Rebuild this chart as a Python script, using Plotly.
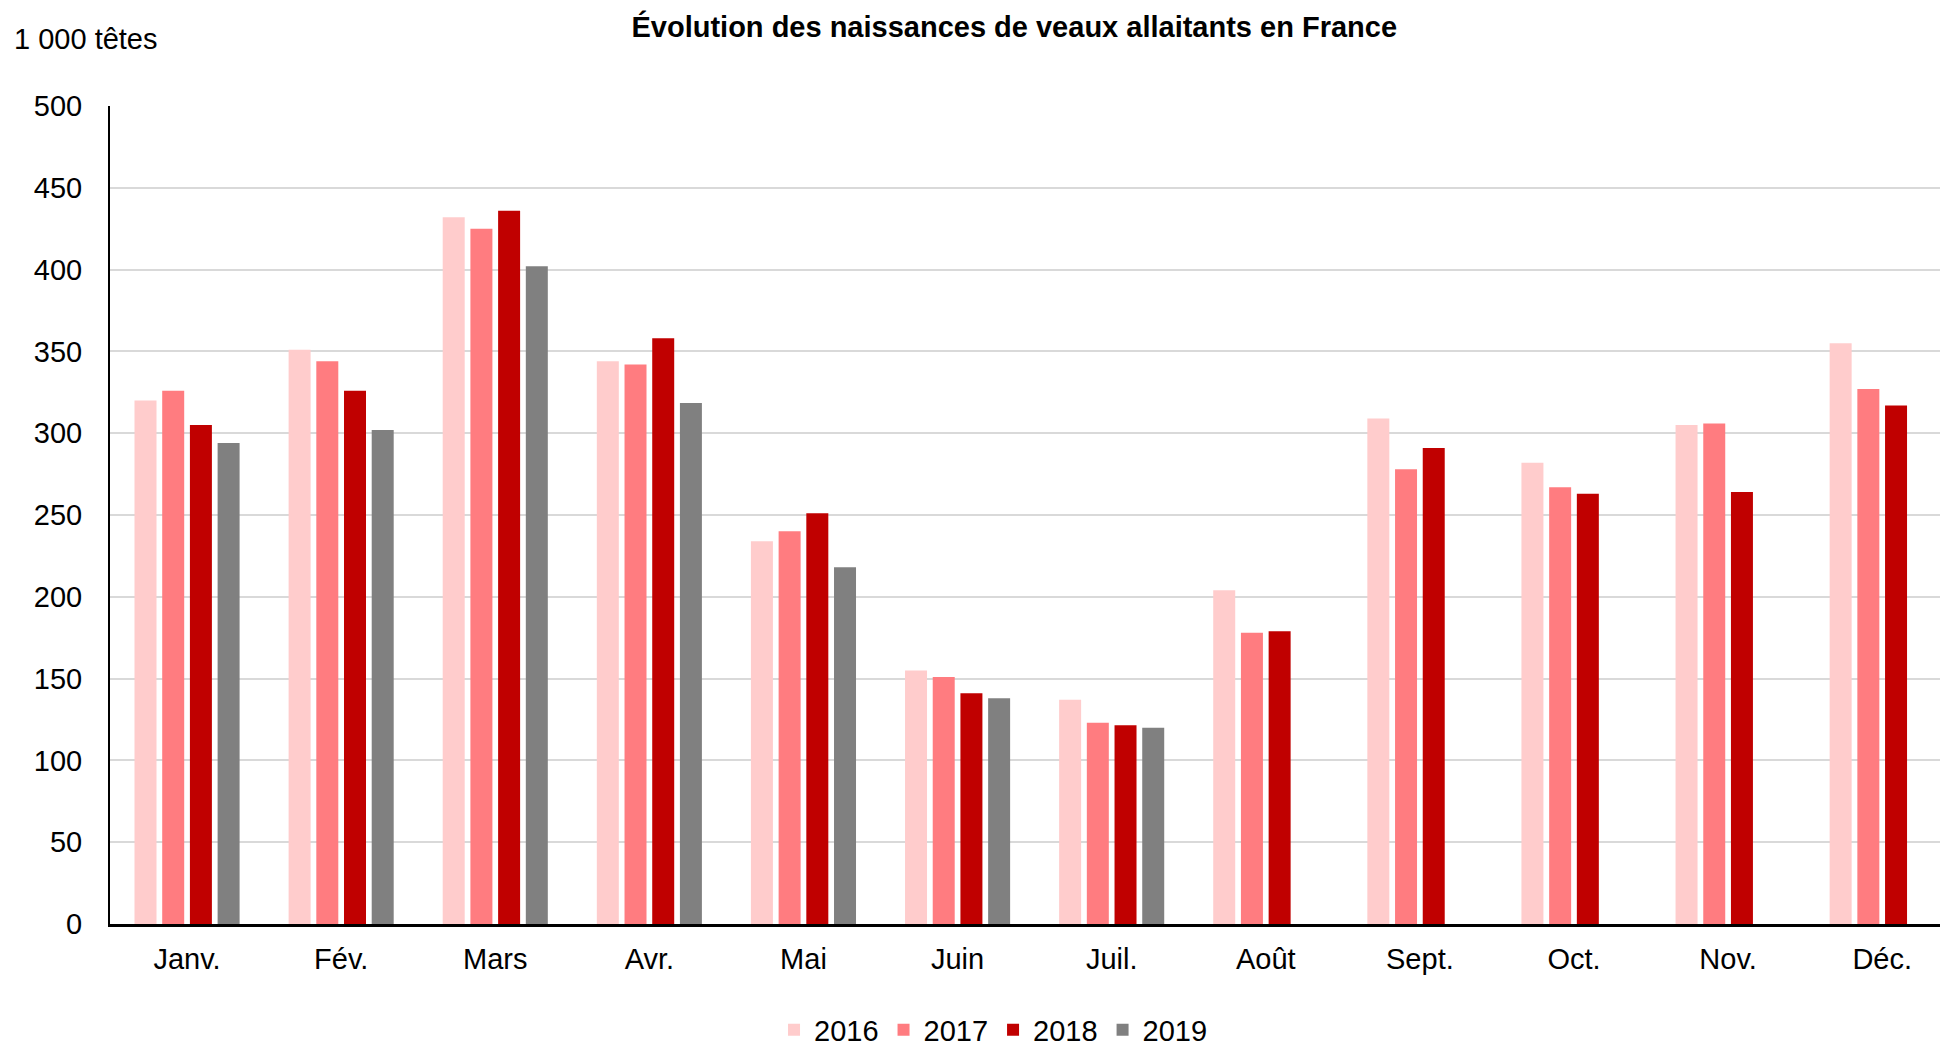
import plotly.graph_objects as go

months = ["Janv.", "Fév.", "Mars", "Avr.", "Mai", "Juin", "Juil.", "Août",
          "Sept.", "Oct.", "Nov.", "Déc."]
v2016 = [320, 351, 432, 344, 234, 155, 137, 204, 309, 282, 305, 355]
v2017 = [326, 344, 425, 342, 240, 151, 123, 178, 278, 267, 306, 327]
v2018 = [305, 326, 436, 358, 251, 141, 121.5, 179, 291, 263, 264, 317]
v2019 = [294, 302, 402, 318.5, 218, 138, 120, None, None, None, None, None]
years = ["2016", "2017", "2018", "2019"]
colors = ["#ffcccc", "#ff7c80", "#c00000", "#808080"]
series = [v2016, v2017, v2018, v2019]

FONT = "Liberation Sans, Arial, sans-serif"

fig = go.Figure()
x_idx = list(range(len(months)))
for name, vals, col in zip(years, series, colors):
    fig.add_trace(go.Bar(
        x=x_idx, y=vals, name=name,
        marker=dict(color=col, line=dict(width=0)),
    ))

# the page body adds an 8px margin, so the figure is 8px smaller on each side
fig.update_layout(
    width=1940, height=1038,
    margin=dict(l=102, r=0, t=98, b=122),
    paper_bgcolor="white", plot_bgcolor="white",
    barmode="group", bargap=0.281, bargroupgap=0.206,
    font=dict(family=FONT, size=29, color="#000000"),
    title=dict(
        text="<b>Évolution des naissances de veaux allaitants en France</b>",
        font=dict(family=FONT, size=29, color="#000000"),
        xref="container", x=0.5187, xanchor="center",
        yref="container", y=0.9814, yanchor="middle",
    ),
    showlegend=True,
    legend=dict(
        orientation="h",
        xref="container", x=0.508, xanchor="center",
        yref="container", y=0.0154, yanchor="middle",
        font=dict(family=FONT, size=29, color="#000000"),
        itemwidth=30, traceorder="normal",
    ),
    xaxis=dict(
        tickmode="array", tickvals=x_idx, ticktext=months,
        range=[-0.5, 11.427],
        showline=True, linecolor="#000000", linewidth=2.5,
        showgrid=False, ticks="", zeroline=False,
        ticklabelstandoff=7,
        tickfont=dict(family=FONT, size=29, color="#000000"),
    ),
    yaxis=dict(
        range=[0, 500], tickmode="linear", tick0=0, dtick=50,
        showline=True, linecolor="#000000", linewidth=2,
        showgrid=True, gridcolor="#d9d9d9", gridwidth=2,
        zeroline=False, ticks="",
        ticklabelstandoff=20,
        tickfont=dict(family=FONT, size=29, color="#000000"),
    ),
    annotations=[dict(
        text="1 000 têtes", xref="paper", yref="paper",
        x=-0.0533, y=1.0825, xanchor="left", yanchor="middle",
        showarrow=False, font=dict(family=FONT, size=29, color="#000000"),
    )],
)

fig.write_html("out.html")
